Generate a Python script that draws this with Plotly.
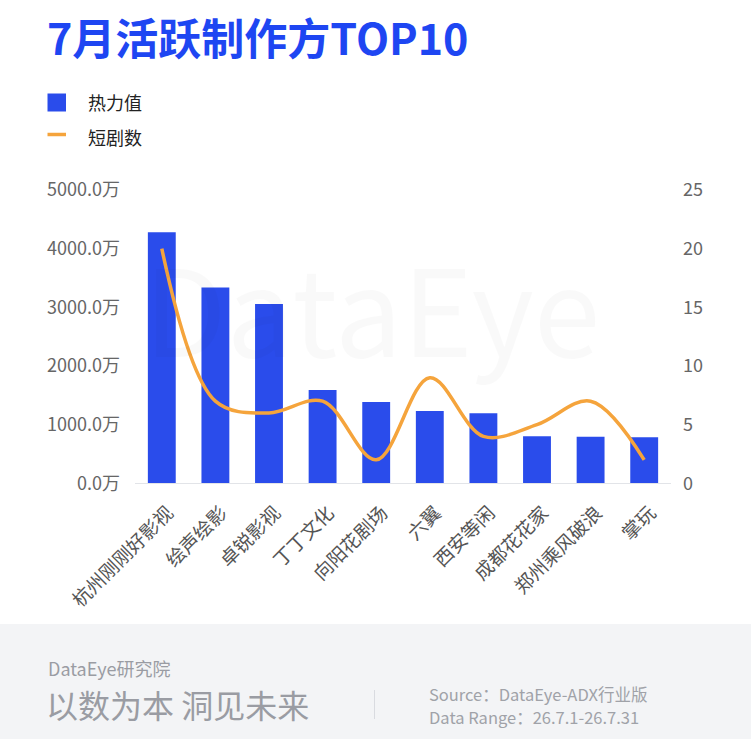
import plotly.graph_objects as go

categories = ["杭州刚刚好影视", "绘声绘影", "卓锐影视", "丁丁文化", "向阳花剧场",
              "六翼", "西安等闲", "成都花花家", "郑州乘风破浪", "掌玩"]
heat_values = [4280, 3340, 3055, 1592, 1387, 1234, 1195, 802, 795, 785]   # 万
drama_counts = [20, 7, 6, 7, 2, 9, 4, 5, 7, 2]
left_ticks = [0, 1000, 2000, 3000, 4000, 5000]
left_tick_labels = ["0.0万", "1000.0万", "2000.0万", "3000.0万", "4000.0万", "5000.0万"]
right_ticks = [0, 5, 10, 15, 20, 25]

W, H = 751, 739
FONT = "Noto Sans CJK SC"
BAR_C = "#2A4CEB"
LINE_C = "#F5A43C"
TITLE_C = "#1E46F2"

def px(x):
    return x / W

def py(y):
    return 1 - y / H

fig = go.Figure()
fig.add_trace(go.Bar(x=categories, y=heat_values, marker=dict(color=BAR_C, line=dict(width=0)),
                     name="热力值", yaxis="y"))
fig.add_trace(go.Scatter(x=categories, y=drama_counts, mode="lines",
                         line=dict(color=LINE_C, width=3.5, shape="spline", smoothing=1),
                         name="短剧数", yaxis="y2"))

shapes = [
    dict(type="rect", xref="paper", yref="paper", x0=0, x1=1, y0=0, y1=py(624),
         fillcolor="#F3F4F6", line=dict(width=0), layer="below"),
    dict(type="line", xref="paper", yref="paper", x0=px(374.5), x1=px(374.5), y0=py(690), y1=py(719),
         line=dict(color="#D9DBE0", width=1)),
    dict(type="rect", xref="paper", yref="paper", x0=px(47.5), x1=px(66), y0=py(111.5), y1=py(93.5),
         fillcolor=BAR_C, line=dict(width=0)),
    dict(type="line", xref="paper", yref="paper", x0=px(47.5), x1=px(66), y0=py(134.5), y1=py(134.5),
         line=dict(color=LINE_C, width=3.5)),
]

annotations = [
    dict(text="7月活跃制作方TOP10", x=px(45), y=py(36), xref="paper", yref="paper",
         xanchor="left", yanchor="middle", showarrow=False,
         font=dict(family=FONT, size=43, color=TITLE_C, weight="bold")),
    dict(text="热力值", x=px(86), y=py(102), xref="paper", yref="paper",
         xanchor="left", yanchor="middle", showarrow=False,
         font=dict(family=FONT, size=18, color="#222222")),
    dict(text="短剧数", x=px(86), y=py(137), xref="paper", yref="paper",
         xanchor="left", yanchor="middle", showarrow=False,
         font=dict(family=FONT, size=18, color="#222222")),
    dict(text="DataEye", x=px(372), y=py(305), xref="paper", yref="paper",
         xanchor="center", yanchor="middle", showarrow=False,
         font=dict(family=FONT, size=120, color="rgba(0,0,0,0.025)")),
    dict(text="DataEye研究院", x=px(46), y=py(668), xref="paper", yref="paper",
         xanchor="left", yanchor="middle", showarrow=False,
         font=dict(family=FONT, size=18, color="#9A9CA3")),
    dict(text="以数为本 洞见未来", x=px(44), y=py(704), xref="paper", yref="paper",
         xanchor="left", yanchor="middle", showarrow=False,
         font=dict(family=FONT, size=32, color="#9A9CA3")),
    dict(text="Source：DataEye-ADX行业版", x=px(427), y=py(694), xref="paper", yref="paper",
         xanchor="left", yanchor="middle", showarrow=False,
         font=dict(family=FONT, size=16.5, color="#A0A2A8")),
    dict(text="Data Range：26.7.1-26.7.31", x=px(427), y=py(717), xref="paper", yref="paper",
         xanchor="left", yanchor="middle", showarrow=False,
         font=dict(family=FONT, size=16.5, color="#A0A2A8")),
]

fig.update_layout(
    width=W, height=H,
    margin=dict(l=0, r=0, t=0, b=0),
    paper_bgcolor="white", plot_bgcolor="rgba(0,0,0,0)",
    showlegend=False,
    bargap=0.48,
    font=dict(family=FONT),
    shapes=shapes,
    annotations=annotations,
    xaxis=dict(domain=[px(135), px(671)], automargin=False,
               showline=True, linecolor="#E2E4E8", linewidth=1,
               showgrid=False, ticks="", tickangle=-45,
               ticklabelstandoff=10, ticklabelshift=6,
               tickfont=dict(family=FONT, size=19, color="#555555")),
    yaxis=dict(domain=[py(483.3), py(190)], range=[0, 5000], automargin=False,
               tickmode="array", tickvals=left_ticks, ticktext=left_tick_labels,
               showgrid=False, zeroline=False, showline=False, ticks="",
               ticklabelstandoff=14,
               tickfont=dict(family=FONT, size=18, color="#666666")),
    yaxis2=dict(overlaying="y", side="right", range=[0, 25], automargin=False,
                tickvals=right_ticks, showgrid=False, zeroline=False, showline=False, ticks="",
                ticklabelstandoff=11, anchor="x",
                tickfont=dict(family=FONT, size=18, color="#666666")),
)

fig.write_html("out.html", config={"displayModeBar": False},
               post_script="document.body.style.margin='0px';")
